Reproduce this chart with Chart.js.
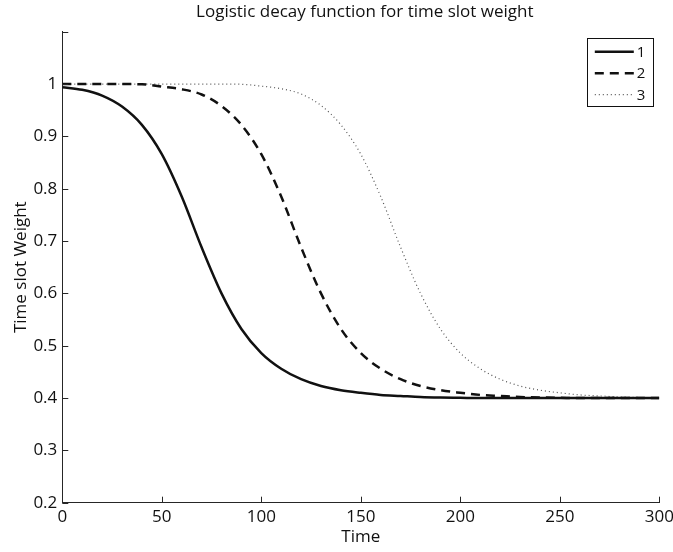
<!DOCTYPE html>
<html>
<head>
<meta charset="utf-8">
<script src="https://cdn.jsdelivr.net/npm/chart.js@4/dist/chart.umd.min.js"></script>
<style>
  html, body { margin: 0; padding: 0; background: #fff; }
  #wrap { width: 673px; height: 552px; }
</style>
</head>
<body>
<div id="wrap"><canvas id="c" width="673" height="552"></canvas></div>
<script>
// ---- data ----
const timePoints = [0,10,20,30,40,50,60,70,80,90,100,110,120,130,140,150,160,170,180,190,200,210,220,230,240,250,260,270,280,290,300];
const series1 = [0.994,0.989,0.978,0.957,0.922,0.866,0.785,0.688,0.6,0.532,0.486,0.456,0.436,0.423,0.415,0.41,0.406,0.404,0.402,0.401,0.4005,0.4,0.4,0.4,0.4,0.4,0.4,0.4,0.4,0.4,0.4];
const series2 = [1.0,1.0,1.0,1.0,0.9995,0.995,0.99,0.98,0.958,0.922,0.866,0.785,0.688,0.6,0.532,0.486,0.456,0.436,0.423,0.415,0.41,0.406,0.404,0.402,0.401,0.4005,0.4,0.4,0.4,0.4,0.4];
const series3 = [1.0,1.0,1.0,1.0,1.0,1.0,1.0,1.0,1.0,0.9995,0.996,0.991,0.981,0.959,0.922,0.866,0.785,0.688,0.6,0.532,0.486,0.456,0.436,0.423,0.415,0.41,0.406,0.404,0.402,0.401,0.4005];
const seriesNames = ['1','2','3'];
const xTicks = [0,50,100,150,200,250,300];
const yTicks = [0.2,0.3,0.4,0.5,0.6,0.7,0.8,0.9,1.0,1.1];
const titleText = 'Logistic decay function for time slot weight';
const xTitle = 'Time';
const yTitle = 'Time slot Weight';

const FONT = "'Open Sans', 'DejaVu Sans', sans-serif";
const AXIS_COLOR = '#262626';

function toPoints(vals) { return timePoints.map((t, i) => ({ x: t, y: vals[i] })); }

const styles = [
  { color: '#111111', width: 2.5, dash: [] },
  { color: '#111111', width: 2.5, dash: [9, 6] },
  { color: '#555555', width: 1.2, dash: [1, 3] }
];
const allSeries = [series1, series2, series3];

// title centred over the plot area
const plotTitle = {
  id: 'plotTitle',
  afterDraw(chart) {
    const { ctx, chartArea } = chart;
    ctx.save();
    ctx.fillStyle = '#111';
    ctx.font = "17px " + FONT;
    ctx.textAlign = 'center';
    ctx.textBaseline = 'middle';
    ctx.fillText(titleText, (chartArea.left + chartArea.right) / 2 + 4, 12);
    ctx.restore();
  }
};

// inward tick marks, drawn at the library's own tick positions
const inwardTicks = {
  id: 'inwardTicks',
  afterDraw(chart) {
    const { ctx, chartArea, scales } = chart;
    ctx.save();
    ctx.strokeStyle = AXIS_COLOR;
    ctx.lineWidth = 1;
    ctx.beginPath();
    scales.x.ticks.forEach(t => {
      const px = Math.round(scales.x.getPixelForValue(t.value)) + 0.5;
      ctx.moveTo(px, chartArea.bottom);
      ctx.lineTo(px, chartArea.bottom - 6);
    });
    scales.y.ticks.forEach(t => {
      const py = Math.round(scales.y.getPixelForValue(t.value)) + 0.5;
      ctx.moveTo(chartArea.left, py);
      ctx.lineTo(chartArea.left + 6, py);
    });
    ctx.stroke();
    ctx.restore();
  }
};

// boxed legend in the top-right corner of the plot
const boxLegend = {
  id: 'boxLegend',
  afterDraw(chart) {
    const { ctx, chartArea } = chart;
    const right = chartArea.right - 6.5;
    const top = chartArea.top + 6.5;
    const w = 66, rowH = 21.5, h = 68;
    const left = right - w;
    ctx.save();
    ctx.fillStyle = '#fff';
    ctx.fillRect(left, top, w, h);
    ctx.strokeStyle = '#111';
    ctx.lineWidth = 1;
    ctx.strokeRect(Math.round(left) + 0.5, Math.round(top) + 0.5, w, h);
    chart.data.datasets.forEach((ds, i) => {
      const y = top + 13.5 + i * rowH;
      ctx.beginPath();
      ctx.strokeStyle = ds.borderColor;
      ctx.lineWidth = ds.borderWidth;
      ctx.setLineDash(ds.borderDash || []);
      ctx.moveTo(left + 8, y);
      ctx.lineTo(left + 47, y);
      ctx.stroke();
      ctx.setLineDash([]);
      ctx.fillStyle = '#111';
      ctx.font = "15px " + FONT;
      ctx.textBaseline = 'middle';
      ctx.textAlign = 'left';
      ctx.fillText(ds.label, left + 50, y + 1);
    });
    ctx.restore();
  }
};

new Chart(document.getElementById('c'), {
  type: 'line',
  data: {
    datasets: allSeries.map((s, i) => ({
      label: seriesNames[i],
      data: toPoints(s),
      borderColor: styles[i].color,
      borderWidth: styles[i].width,
      borderDash: styles[i].dash,
      borderCapStyle: 'butt',
      pointRadius: 0,
      fill: false,
      cubicInterpolationMode: 'monotone'
    }))
  },
  options: {
    responsive: false,
    animation: false,
    devicePixelRatio: 1,
    layout: { padding: { left: 0, right: 13.7, top: 31.7, bottom: 0 } },
    plugins: {
      legend: { display: false },
      tooltip: { enabled: false },
      title: { display: false }
    },
    scales: {
      x: {
        type: 'linear',
        min: 0, max: 300,
        afterBuildTicks(scale) { scale.ticks = xTicks.map(v => ({ value: v })); },
        afterFit(scale) { scale.height = 49.3; scale.paddingLeft = 0; scale.paddingRight = 0; },
        border: { display: true, color: AXIS_COLOR, width: 1 },
        grid: { display: true, drawOnChartArea: false, drawTicks: false },
        ticks: {
          color: '#111', padding: 4, maxRotation: 0, autoSkip: false,
          font: { family: FONT, size: 17 },
          callback: v => String(v)
        },
        title: {
          display: true, text: xTitle, color: '#111',
          font: { family: FONT, size: 17, lineHeight: 1.2 },
          padding: { top: 0, bottom: 5 }
        }
      },
      y: {
        type: 'linear',
        min: 0.2, max: 1.1,
        afterBuildTicks(scale) { scale.ticks = yTicks.map(v => ({ value: v })); },
        afterFit(scale) { scale.width = 62.3; scale.paddingTop = 0; scale.paddingBottom = 0; },
        border: { display: true, color: AXIS_COLOR, width: 1 },
        grid: { display: true, drawOnChartArea: false, drawTicks: false },
        ticks: {
          color: '#111', padding: 5, autoSkip: false,
          font: { family: FONT, size: 17 },
          callback: v => (Math.abs(v - 1.1) < 1e-6 ? '' : String(+v.toFixed(1)))
        },
        title: {
          display: true, text: yTitle, color: '#111',
          font: { family: FONT, size: 17, lineHeight: 1.2 },
          padding: { top: 11, bottom: 0 }
        }
      }
    }
  },
  plugins: [plotTitle, inwardTicks, boxLegend]
});
</script>
</body>
</html>
